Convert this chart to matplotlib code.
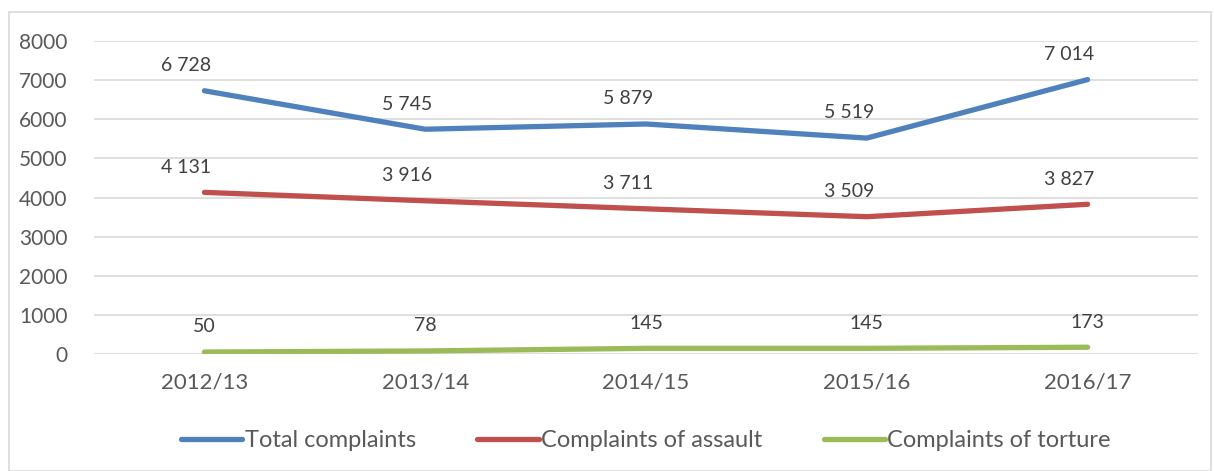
import matplotlib.pyplot as plt
from matplotlib.patches import Rectangle

# chart data
years = ['2012/13', '2013/14', '2014/15', '2015/16', '2016/17']
total = [6728, 5745, 5879, 5519, 7014]
assault = [4131, 3916, 3711, 3509, 3827]
torture = [50, 78, 145, 145, 173]
series_names = ['Total complaints', 'Complaints of assault', 'Complaints of torture']
colors = ['#4F81BD', '#C0504D', '#9BBB59']

plt.rcParams['font.family'] = ['Lato', 'DejaVu Sans']
text_col = '#595959'

fig = plt.figure(figsize=(12.14, 4.71), dpi=100)
ax = fig.add_axes([94 / 1214, 1 - 354 / 471, 1104 / 1214, 313 / 471])

# outer border of the chart box
fig.patches.append(Rectangle((9 / 1214, 0), 1 - 9 / 1214 - 3 / 1214, 1 - 12 / 471,
                             transform=fig.transFigure, fill=False,
                             edgecolor='#D9D9D9', linewidth=1.2))

x = list(range(len(years)))
for vals, name, c in zip([total, assault, torture], series_names, colors):
    ax.plot(x, vals, color=c, linewidth=3.8, solid_capstyle='round', label=name)
    for xi, v in zip(x, vals):
        lbl = '{:,}'.format(v).replace(',', ' ')
        # thousands labels sit a little left of the point (number format padding)
        dx = -13 if v >= 1000 else 0
        ax.annotate(lbl, (xi, v), xytext=(dx, 12), textcoords='offset points',
                    ha='center', va='bottom', fontsize=14, color='#404040')

ax.set_xlim(-0.5, 4.5)
ax.set_ylim(0, 8000)
ax.set_yticks(range(0, 8001, 1000))
ax.set_xticks(x)
ax.set_xticklabels(years)
ax.tick_params(axis='both', length=0, labelcolor=text_col)
ax.tick_params(axis='y', pad=19, labelsize=15)
ax.tick_params(axis='x', pad=13, labelsize=16)
ax.grid(axis='y', color='#D9D9D9', linewidth=1.2)
ax.set_axisbelow(True)
for s in ax.spines.values():
    s.set_visible(False)

ax.legend(loc='upper center', bbox_to_anchor=(0.5, -0.175), ncol=3, frameon=False,
          fontsize=17, labelcolor=text_col, handlelength=2.6, handletextpad=0.1,
          columnspacing=2.6)

fig.savefig('out.png', dpi=100)
